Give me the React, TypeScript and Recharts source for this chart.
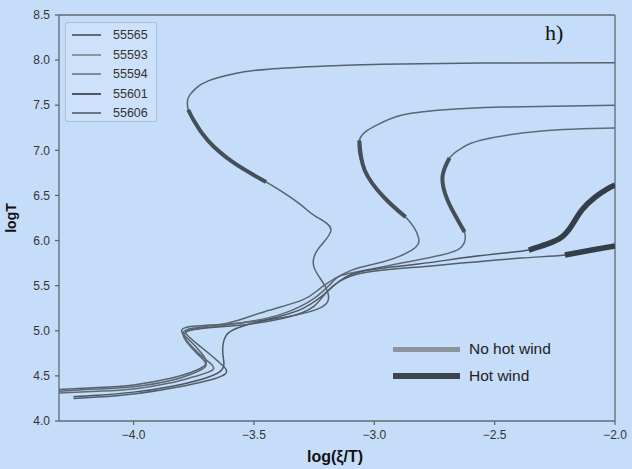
import { LineChart, Line, XAxis, YAxis, ReferenceLine, Label } from 'recharts';

const xTicks = [-4.0, -3.5, -3.0, -2.5, -2.0];
const yTicks = [4.0, 4.5, 5.0, 5.5, 6.0, 6.5, 7.0, 7.5, 8.0, 8.5];

// log(xi/T), logT along each S-curve, cold end first
const x55565 = [-4.31, -4.15, -4.0, -3.85, -3.76, -3.70, -3.72, -3.77, -3.80, -3.78, -3.70, -3.55, -3.40, -3.30, -3.22, -3.19, -3.21, -3.25, -3.235, -3.18, -3.245, -3.317, -3.45, -3.583, -3.692, -3.75, -3.773, -3.776, -3.765, -3.74, -3.69, -3.583, -3.44, -3.20, -2.97, -2.55, -2.0];
const y55565 = [4.35, 4.37, 4.40, 4.47, 4.54, 4.63, 4.76, 4.90, 4.99, 5.04, 5.06, 5.09, 5.14, 5.19, 5.26, 5.36, 5.52, 5.70, 5.90, 6.12, 6.27, 6.42, 6.65, 6.86, 7.11, 7.33, 7.45, 7.55, 7.62, 7.69, 7.77, 7.85, 7.90, 7.935, 7.955, 7.968, 7.97];

const x55593 = [-4.31, -4.15, -4.0, -3.85, -3.76, -3.70, -3.73, -3.775, -3.795, -3.75, -3.61, -3.47, -3.30, -3.22, -3.096, -2.97, -2.846, -2.817, -2.87, -2.96, -3.04, -3.0625, -2.99, -2.8875, -2.72, -2.47, -2.0];
const y55593 = [4.33, 4.355, 4.38, 4.445, 4.52, 4.61, 4.73, 4.86, 4.97, 5.03, 5.085, 5.20, 5.34, 5.48, 5.67, 5.76, 5.89, 6.04, 6.26, 6.48, 6.78, 7.11, 7.28, 7.39, 7.447, 7.48, 7.50];

const x55594 = [-4.31, -4.15, -4.0, -3.85, -3.75, -3.67, -3.70, -3.76, -3.79, -3.74, -3.62, -3.50, -3.38, -3.25, -3.167, -3.096, -2.8875, -2.72, -2.6375, -2.625, -2.658, -2.696, -2.717, -2.6875, -2.64, -2.554, -2.304, -2.0];
const y55594 = [4.31, 4.33, 4.355, 4.42, 4.49, 4.57, 4.68, 4.83, 4.96, 5.02, 5.06, 5.11, 5.19, 5.36, 5.56, 5.64, 5.75, 5.84, 5.928, 6.094, 6.25, 6.449, 6.70, 6.915, 7.02, 7.114, 7.214, 7.247];

const x55601 = [-4.25, -4.15, -4.0, -3.85, -3.72, -3.64, -3.625, -3.63, -3.615, -3.56, -3.45, -3.32, -3.22, -3.14, -3.03, -2.817, -2.6375, -2.47, -2.358, -2.283, -2.221, -2.179, -2.1375, -2.083, -2.033, -2.0];
const y55601 = [4.27, 4.285, 4.32, 4.38, 4.46, 4.55, 4.65, 4.79, 4.95, 5.04, 5.12, 5.22, 5.38, 5.56, 5.67, 5.74, 5.806, 5.86, 5.895, 5.96, 6.04, 6.17, 6.338, 6.48, 6.57, 6.615];

const x55606 = [-4.25, -4.15, -4.0, -3.85, -3.72, -3.62, -3.64, -3.72, -3.78, -3.76, -3.66, -3.50, -3.30, -3.22, -3.16, -3.08, -2.97, -2.80, -2.6375, -2.39, -2.208, -2.096, -2.0];
const y55606 = [4.25, 4.265, 4.30, 4.36, 4.43, 4.52, 4.64, 4.82, 4.96, 5.01, 5.04, 5.08, 5.20, 5.36, 5.52, 5.62, 5.67, 5.71, 5.75, 5.806, 5.84, 5.895, 5.94];

// point index ranges of the thick stretches
const span55565 = [22, 26];
const span55593 = [18, 21];
const span55594 = [19, 23];
const span55601 = [18, 25];
const span55606 = [20, 22];

const hotWind = ['55601', '55606'];

const toPoints = (xs: number[], ys: number[]) => xs.map((x, i) => ({ x, y: ys[i] }));

const series = [
  { name: '55565', pts: toPoints(x55565, y55565), span: span55565, color: '#56626d', key: '#5f6b76' },
  { name: '55593', pts: toPoints(x55593, y55593), span: span55593, color: '#5a6671', key: '#8b96a0' },
  { name: '55594', pts: toPoints(x55594, y55594), span: span55594, color: '#5e6a75', key: '#808b96' },
  { name: '55601', pts: toPoints(x55601, y55601), span: span55601, color: '#4a5560', key: '#4e5964' },
  { name: '55606', pts: toPoints(x55606, y55606), span: span55606, color: '#525e69', key: '#6c7884' },
];

const fmtX = (v: number) => v.toFixed(1).replace('-', '\u2212');
const fmtY = (v: number) => v.toFixed(1);

const axisColor = '#5f6870';
const sans = '"Liberation Sans", Arial, sans-serif';
const tickStyle = { fontSize: 12, fill: '#333', fontFamily: sans };

export default function App() {
  return (
    <div style={{ position: 'absolute', left: 0, top: 0, width: 632, height: 469, background: '#c6ddf9', fontFamily: sans }}>
      <LineChart width={632} height={469} margin={{ top: 15, right: 17, bottom: 18, left: 0 }}>
        <XAxis
          dataKey="x"
          type="number"
          domain={[-4.31, -2.0]}
          allowDataOverflow
          ticks={xTicks}
          tickFormatter={fmtX}
          height={30}
          tick={tickStyle}
          tickSize={4}
          tickMargin={5}
          stroke={axisColor}
          strokeWidth={1.3}
        >
          <Label
            content={({ viewBox }: any) => (
              <text x={viewBox.x + viewBox.width / 2 - 2} y={viewBox.y + 37} textAnchor="middle" dominantBaseline="middle" fontFamily={sans} fontWeight="bold" fontSize={16} fill="#111">
                log(ξ/T)
              </text>
            )}
          />
        </XAxis>
        <YAxis
          dataKey="y"
          type="number"
          domain={[4.0, 8.5]}
          allowDataOverflow
          ticks={yTicks}
          tickFormatter={fmtY}
          width={59}
          tick={tickStyle}
          tickSize={4}
          tickMargin={5}
          stroke={axisColor}
          strokeWidth={1.3}
        >
          <Label
            content={({ viewBox }: any) => (
              <text x={12} y={viewBox.y + viewBox.height / 2} transform={`rotate(-90, 12, ${viewBox.y + viewBox.height / 2})`} textAnchor="middle" dominantBaseline="middle" fontFamily={sans} fontWeight="bold" fontSize={14} fill="#111">
                logT
              </text>
            )}
          />
        </YAxis>
        <ReferenceLine y={8.5} stroke={axisColor} strokeWidth={1.3} />
        <ReferenceLine x={-2.0} stroke={axisColor} strokeWidth={1.3} />
        {series.map((s) => (
          <Line
            key={s.name}
            data={s.pts}
            dataKey="y"
            type="natural"
            stroke={s.color}
            strokeWidth={1.5}
            dot={false}
            activeDot={false}
            isAnimationActive={false}
          />
        ))}
        {series.map((s) => (
          <Line
            key={`${s.name}-thick`}
            data={s.pts.slice(s.span[0], s.span[1] + 1)}
            dataKey="y"
            type="natural"
            stroke={hotWind.includes(s.name) ? '#353e48' : '#444f5a'}
            strokeWidth={hotWind.includes(s.name) ? 5.5 : 4}
            strokeLinecap="butt"
            dot={false}
            activeDot={false}
            isAnimationActive={false}
          />
        ))}
      </LineChart>

      {/* run legend */}
      <div
        style={{
          position: 'absolute',
          left: 65,
          top: 22,
          width: 92,
          height: 100,
          boxSizing: 'border-box',
          border: '1px solid rgba(140,160,185,0.55)',
          borderRadius: 3,
          background: 'rgba(214,230,250,0.45)',
        }}
      >
        {series.map((s, i) => (
          <div key={s.name} style={{ position: 'absolute', left: 6, top: 3 + i * 19.5, height: 18, display: 'flex', alignItems: 'center' }}>
            <span style={{ display: 'inline-block', width: 29, height: 2, background: s.key }} />
            <span style={{ marginLeft: 12, fontSize: 12.5, color: '#333', lineHeight: '18px' }}>{s.name}</span>
          </div>
        ))}
      </div>

      {/* wind legend */}
      {[
        { label: 'No hot wind', color: '#8a949d', top: 349, h: 5 },
        { label: 'Hot wind', color: '#3b4550', top: 376, h: 6 },
      ].map((w) => (
        <div key={w.label} style={{ position: 'absolute', left: 393, top: w.top - 10, height: 20, display: 'flex', alignItems: 'center' }}>
          <span style={{ display: 'inline-block', width: 67, height: w.h, background: w.color }} />
          <span style={{ marginLeft: 9, fontSize: 15.5, color: '#222', lineHeight: '20px' }}>{w.label}</span>
        </div>
      ))}

      <div style={{ position: 'absolute', left: 545, top: 20, fontFamily: '"Liberation Serif", "Times New Roman", serif', fontSize: 22, color: '#111', lineHeight: '26px' }}>
        h)
      </div>
    </div>
  );
}
